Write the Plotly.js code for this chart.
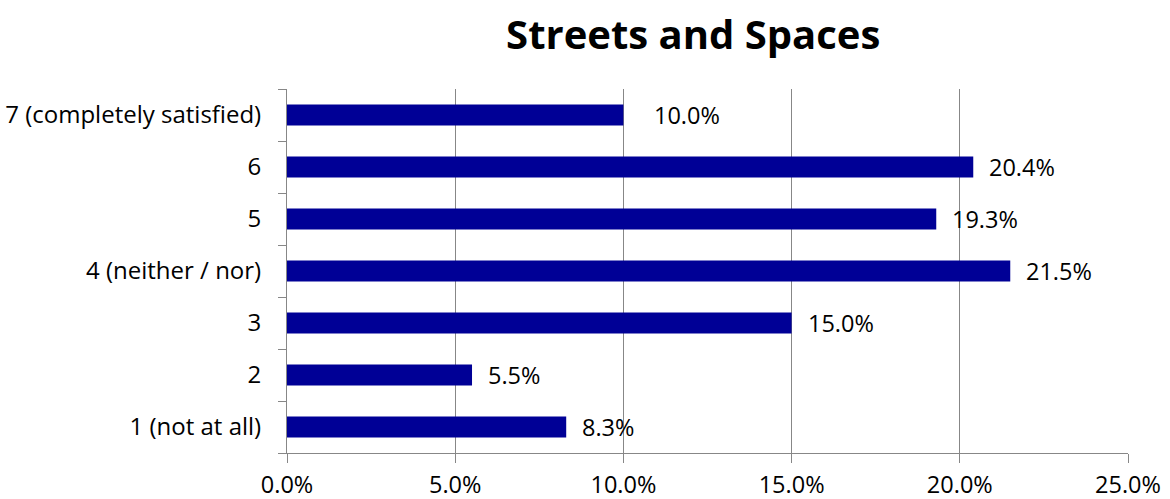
<!DOCTYPE html>
<html>
<head>
<meta charset="utf-8">
<script src="https://cdn.plot.ly/plotly-3.0.1.min.js"></script>
<style>html,body{margin:0;padding:0;background:#fff;}#chart{width:1170px;height:499px;}</style>
</head>
<body>
<div id="chart"></div>
<script>
const categories = ["1 (not at all)", "2", "3", "4 (neither / nor)", "5", "6", "7 (completely satisfied)"];
const values = [8.3, 5.5, 15.0, 21.5, 19.3, 20.4, 10.0];
const xTickValues = [0, 5, 10, 15, 20, 25];
const xTickLabels = ["0.0%", "5.0%", "10.0%", "15.0%", "20.0%", "25.0%"];
const chartTitle = "Streets and Spaces";

const FONT = "Open Sans, sans-serif";

const trace = {
  type: "bar",
  orientation: "h",
  y: categories,
  x: values,
  marker: {color: "#000096"},
  width: 0.4,
  hoverinfo: "none"
};

// the top label sits a little further from its bar in the original
function labelShift(i) { return i === categories.length - 1 ? 29 : 14; }

const annotations = values.map((v, i) => ({
  x: v,
  y: i,
  xref: "x",
  yref: "y",
  text: v.toFixed(1) + "%",
  showarrow: false,
  xanchor: "left",
  yanchor: "middle",
  xshift: labelShift(i),
  font: {family: FONT, size: 23.5, color: "#000"}
}));

const layout = {
  width: 1170,
  height: 499,
  margin: {l: 287, r: 42, t: 89, b: 46},
  paper_bgcolor: "#fff",
  plot_bgcolor: "#fff",
  showlegend: false,
  title: {
    text: "<b>" + chartTitle + "</b>",
    x: 0.483,
    xref: "paper",
    xanchor: "center",
    y: 0.93,
    yref: "container",
    yanchor: "middle",
    font: {family: FONT, size: 40, color: "#000"}
  },
  xaxis: {
    range: [0, 25],
    tickvals: xTickValues,
    ticktext: xTickLabels,
    showgrid: true,
    gridcolor: "#878787",
    gridwidth: 1,
    showline: true,
    linecolor: "#878787",
    linewidth: 1,
    ticks: "outside",
    ticklen: 9,
    tickcolor: "#878787",
    zeroline: false,
    ticklabelstandoff: 2,
    tickfont: {family: FONT, size: 23.5, color: "#000"},
    fixedrange: true
  },
  yaxis: {
    type: "category",
    categoryorder: "array",
    categoryarray: categories,
    range: [-0.5, 6.5],
    showgrid: false,
    showline: true,
    linecolor: "#878787",
    linewidth: 1,
    ticks: "outside",
    tickson: "boundaries",
    ticklen: 8,
    tickcolor: "#878787",
    zeroline: false,
    ticklabelstandoff: 20,
    tickfont: {family: FONT, size: 24, color: "#000"},
    fixedrange: true
  },
  annotations: annotations
};

Plotly.newPlot("chart", [trace], layout, {displayModeBar: false, staticPlot: true});
</script>
</body>
</html>
